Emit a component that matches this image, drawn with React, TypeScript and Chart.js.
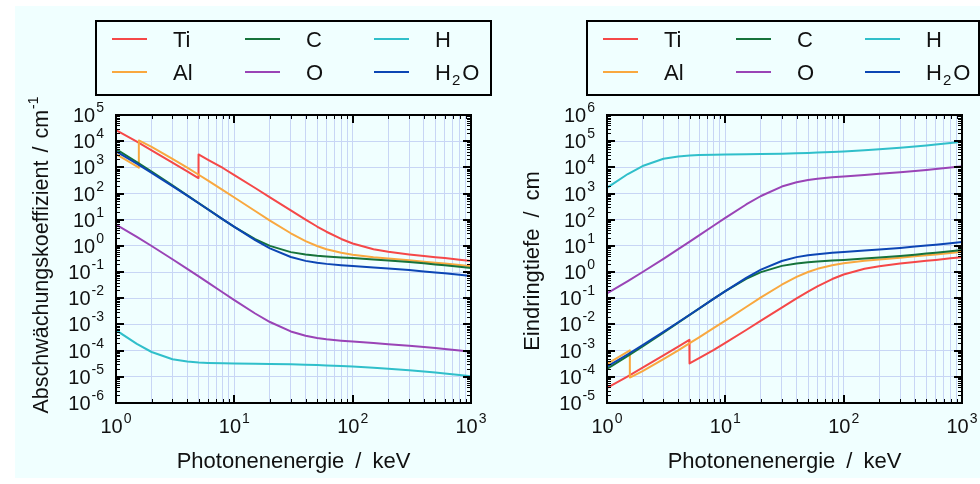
import React, { useEffect, useRef } from 'react';
import { Chart, registerables } from 'chart.js';

Chart.register(...registerables);

const FONT_FAMILY = '"Liberation Sans", "DejaVu Sans", sans-serif';
const TEXT_COLOR = '#111111';
const GRID_COLOR = '#c8d6f5';
const BG_COLOR = '#f0ffff';

// ---------- data ----------
const energyStd = [1, 1.5, 2, 3, 4, 5, 6, 8, 10, 15, 20, 30, 40, 50, 60, 80, 100, 150, 200, 300, 400, 500, 600, 800, 1000];
const energyAl = [1, 1.5, 1.5596, 1.5596, 2, 3, 4, 5, 6, 8, 10, 15, 20, 30, 40, 50, 60, 80, 100, 150, 200, 300, 400, 500, 600, 800, 1000];
const energyTi = [1, 1.5, 2, 3, 4, 4.966, 4.966, 5, 6, 8, 10, 15, 20, 30, 40, 50, 60, 80, 100, 150, 200, 300, 400, 500, 600, 800, 1000];

// attenuation coefficient / cm^-1
const muTi = [26600, 9520, 4480, 1515, 699, 389, 3106, 3100, 1952, 947, 505, 163, 71.7, 22.6, 10.05, 5.51, 3.48, 1.84, 1.235, 0.749, 0.597, 0.474, 0.412, 0.372, 0.342, 0.298, 0.268];
const muAl = [3200, 1086, 977, 10680, 6110, 2127, 973, 522, 311, 136, 70.8, 21.5, 9.29, 3.04, 1.534, 0.994, 0.75, 0.545, 0.46, 0.372, 0.33, 0.281, 0.25, 0.228, 0.211, 0.185, 0.166];
const muC = [5000, 1582, 684, 204, 85.4, 43.2, 24.7, 10.3, 5.36, 1.82, 1.0, 0.579, 0.469, 0.423, 0.396, 0.364, 0.342, 0.304, 0.278, 0.241, 0.216, 0.197, 0.182, 0.16, 0.144];
const muO = [6.56, 2.21, 0.993, 0.31, 0.133, 0.0685, 0.0396, 0.0166, 0.00851, 0.00262, 0.00124, 5.4e-4, 3.69e-4, 3.05e-4, 2.73e-4, 2.4e-4, 2.22e-4, 1.94e-4, 1.77e-4, 1.53e-4, 1.37e-4, 1.25e-4, 1.15e-4, 1.01e-4, 9.1e-5];
const muH = [6.04e-4, 1.8e-4, 8.87e-5, 4.7e-5, 3.81e-5, 3.51e-5, 3.39e-5, 3.28e-5, 3.23e-5, 3.15e-5, 3.09e-5, 2.99e-5, 2.9e-5, 2.81e-5, 2.73e-5, 2.59e-5, 2.47e-5, 2.22e-5, 2.03e-5, 1.77e-5, 1.59e-5, 1.45e-5, 1.34e-5, 1.18e-5, 1.06e-5];
const muH2O = [4078, 1376, 617, 193, 82.8, 42.6, 24.6, 10.37, 5.33, 1.673, 0.81, 0.376, 0.268, 0.227, 0.206, 0.184, 0.171, 0.151, 0.137, 0.119, 0.106, 0.0969, 0.0896, 0.0787, 0.0707];

// penetration depth / cm
const depthTi = [3.76e-5, 1.05e-4, 2.23e-4, 6.6e-4, 1.43e-3, 2.57e-3, 3.22e-4, 3.23e-4, 5.12e-4, 1.06e-3, 1.98e-3, 6.13e-3, 0.0139, 0.0442, 0.0995, 0.181, 0.287, 0.543, 0.81, 1.335, 1.675, 2.11, 2.43, 2.69, 2.92, 3.36, 3.73];
const depthAl = [3.13e-4, 9.21e-4, 1.02e-3, 9.36e-5, 1.64e-4, 4.7e-4, 1.03e-3, 1.92e-3, 3.22e-3, 7.35e-3, 0.0141, 0.0465, 0.108, 0.329, 0.652, 1.006, 1.333, 1.835, 2.17, 2.69, 3.03, 3.56, 4.0, 4.39, 4.74, 5.41, 6.02];
const depthC = [2.0e-4, 6.32e-4, 1.46e-3, 4.9e-3, 0.0117, 0.0231, 0.0405, 0.0971, 0.187, 0.549, 1.0, 1.727, 2.13, 2.36, 2.53, 2.75, 2.92, 3.29, 3.6, 4.15, 4.63, 5.08, 5.49, 6.25, 6.94];
const depthO = [0.152, 0.452, 1.007, 3.22, 7.51, 14.6, 25.3, 60.2, 117.5, 382, 806, 1852, 2710, 3280, 3660, 4170, 4500, 5150, 5650, 6540, 7300, 8000, 8700, 9900, 11000];
const depthH = [1655, 5560, 11270, 21280, 26250, 28490, 29500, 30490, 30960, 31750, 32360, 33440, 34480, 35590, 36630, 38610, 40490, 45050, 49260, 56500, 62900, 69000, 74600, 84700, 94300];
const depthH2O = [2.45e-4, 7.27e-4, 1.62e-3, 5.18e-3, 0.0121, 0.0235, 0.0407, 0.0964, 0.188, 0.598, 1.235, 2.66, 3.73, 4.41, 4.85, 5.43, 5.85, 6.62, 7.3, 8.4, 9.43, 10.32, 11.16, 12.71, 14.14];

const seriesLabels = ['Ti', 'Al', 'C', 'O', 'H', 'H2O'];
const seriesColors = ['#f54848', '#f9a83f', '#16733b', '#9a44b6', '#30bfca', '#0c46b4'];

// tick decades
const xDecadeExps = [0, 1, 2, 3];
const yDecadeExpsMu = [-6, -5, -4, -3, -2, -1, 0, 1, 2, 3, 4, 5];
const yDecadeExpsDepth = [-5, -4, -3, -2, -1, 0, 1, 2, 3, 4, 5, 6];
const minorSignificands = [2, 3, 4, 5, 6, 7, 8, 9];

// legend layout: [series index, column, row]
const legendOrder = [[0, 0, 0], [2, 1, 0], [4, 2, 0], [1, 0, 1], [3, 1, 1], [5, 2, 1]];

// ---------- helpers ----------
function logTicks(exps: number[]) {
  const out: any[] = [];
  exps.forEach((e, i) => {
    out.push({ value: Math.pow(10, e), major: true });
    if (i < exps.length - 1) {
      minorSignificands.forEach((m) => out.push({ value: m * Math.pow(10, e), major: false }));
    }
  });
  return out;
}

function pts(xs: number[], ys: number[]) {
  return xs.map((x, i) => ({ x, y: ys[i] }));
}

function setFont(ctx: CanvasRenderingContext2D, size: number) {
  ctx.font = `${size}px ${FONT_FAMILY}`;
}

type Seg = { t: string; size: number; dy: number; pad?: number };

function drawSegs(ctx: CanvasRenderingContext2D, segs: Seg[], x: number, baseline: number, align: 'left' | 'center' | 'right') {
  let total = 0;
  const widths = segs.map((s) => {
    setFont(ctx, s.size);
    const w = ctx.measureText(s.t).width;
    total += w + (s.pad || 0);
    return w;
  });
  let cx = align === 'left' ? x : align === 'center' ? x - total / 2 : x - total;
  ctx.textAlign = 'left';
  ctx.textBaseline = 'alphabetic';
  segs.forEach((s, i) => {
    cx += s.pad || 0;
    setFont(ctx, s.size);
    ctx.fillText(s.t, cx, baseline + s.dy);
    cx += widths[i];
  });
}

function powSegs(exp: number): Seg[] {
  return [
    { t: '10', size: 20, dy: 0 },
    { t: exp < 0 ? '-' + Math.abs(exp) : String(exp), size: 14, dy: -10, pad: 1 },
  ];
}

function labelSegs(label: string): Seg[] {
  if (label === 'H2O') {
    return [
      { t: 'H', size: 22, dy: 0 },
      { t: '2', size: 15, dy: 5, pad: 1 },
      { t: 'O', size: 22, dy: 0, pad: 2 },
    ];
  }
  return [{ t: label, size: 22, dy: 0 }];
}

function decorPlugin(cfg: { yExps: number[]; yTitle: Seg[]; yTitleShift: number; legendW: number }) {
  return {
    id: 'decor',
    afterDraw(chart: any) {
      const ctx: CanvasRenderingContext2D = chart.ctx;
      const a = chart.chartArea;
      const xs = chart.scales.x;
      const ys = chart.scales.y;
      ctx.save();
      ctx.strokeStyle = '#000';
      // tick marks, inward, on all sides
      for (const t of xs.ticks) {
        const px = xs.getPixelForValue(t.value);
        const len = t.major ? 8 : 4;
        const p = t.major ? Math.round(px) : Math.round(px) + 0.5;
        ctx.lineWidth = t.major ? 2 : 1;
        ctx.beginPath();
        ctx.moveTo(p, a.bottom);
        ctx.lineTo(p, a.bottom - len);
        ctx.moveTo(p, a.top);
        ctx.lineTo(p, a.top + len);
        ctx.stroke();
      }
      for (const t of ys.ticks) {
        const py = ys.getPixelForValue(t.value);
        const len = t.major ? 8 : 4;
        const p = t.major ? Math.round(py) : Math.round(py) + 0.5;
        ctx.lineWidth = t.major ? 2 : 1;
        ctx.beginPath();
        ctx.moveTo(a.left, p);
        ctx.lineTo(a.left + len, p);
        ctx.moveTo(a.right, p);
        ctx.lineTo(a.right - len, p);
        ctx.stroke();
      }
      // frame
      ctx.lineWidth = 2;
      ctx.strokeRect(a.left, a.top, a.right - a.left, a.bottom - a.top);

      // tick labels
      ctx.fillStyle = TEXT_COLOR;
      xDecadeExps.forEach((e) => {
        const px = xs.getPixelForValue(Math.pow(10, e));
        drawSegs(ctx, powSegs(e), px, a.bottom + 30, 'center');
      });
      cfg.yExps.forEach((e) => {
        const py = ys.getPixelForValue(Math.pow(10, e));
        drawSegs(ctx, powSegs(e), a.left - 12, py + 7, 'right');
      });

      // axis titles
      drawSegs(
        ctx,
        [
          { t: 'Photonenenergie', size: 22, dy: 0 },
          { t: '/', size: 22, dy: 0, pad: 11 },
          { t: 'keV', size: 22, dy: 0, pad: 11 },
        ],
        (a.left + a.right) / 2,
        468,
        'center'
      );
      ctx.save();
      ctx.translate(40, (a.top + a.bottom) / 2 + cfg.yTitleShift);
      ctx.rotate(-Math.PI / 2);
      drawSegs(ctx, cfg.yTitle, 0, 8, 'center');
      ctx.restore();

      // legend
      ctx.lineWidth = 2;
      ctx.strokeStyle = '#000';
      ctx.strokeRect(96, 21, cfg.legendW, 74);
      const colX = [112, 245, 374];
      const rowY = [39, 72];
      legendOrder.forEach(([si, c, r]) => {
        const ds = chart.data.datasets[si];
        const lx = colX[c];
        const ly = rowY[r];
        ctx.strokeStyle = ds.borderColor;
        ctx.lineWidth = 2;
        ctx.beginPath();
        ctx.moveTo(lx, ly);
        ctx.lineTo(lx + 35, ly);
        ctx.stroke();
        ctx.fillStyle = TEXT_COLOR;
        drawSegs(ctx, labelSegs(ds.label), lx + 61, ly + 8, 'left');
      });
      ctx.restore();
    },
  };
}

function buildChart(canvas: HTMLCanvasElement, xsList: number[][], ysList: number[][], yExps: number[], yTitle: Seg[], yTitleShift: number, legendW: number) {
  const datasets = seriesLabels.map((label, i) => ({
    label,
    data: pts(xsList[i], ysList[i]),
    borderColor: seriesColors[i],
    backgroundColor: seriesColors[i],
    borderWidth: 2,
    pointRadius: 0,
    fill: false,
    tension: 0,
    order: seriesLabels.length - 1 - i,
  }));
  return new Chart(canvas, {
    type: 'line',
    data: { datasets } as any,
    options: {
      animation: false,
      responsive: false,
      events: [],
      layout: { padding: { top: 115, right: 24, bottom: 0, left: 0 } },
      elements: { line: { borderJoinStyle: 'round', borderCapStyle: 'butt' }, point: { radius: 0 } },
      plugins: { legend: { display: false }, tooltip: { enabled: false }, title: { display: false } },
      scales: {
        x: {
          type: 'logarithmic',
          min: 1,
          max: 1000,
          ticks: { display: false, autoSkip: false, callback: () => '' },
          grid: { color: GRID_COLOR, lineWidth: 1, drawTicks: false },
          border: { display: false },
          afterBuildTicks: (s: any) => {
            s.ticks = logTicks(xDecadeExps);
          },
          afterFit: (s: any) => {
            s.height = 81;
          },
        },
        y: {
          type: 'logarithmic',
          min: Math.pow(10, yExps[0]),
          max: Math.pow(10, yExps[yExps.length - 1]),
          ticks: { display: false, autoSkip: false, callback: () => '' },
          grid: {
            color: (c: any) => (c.tick && c.tick.major ? GRID_COLOR : 'rgba(0,0,0,0)'),
            lineWidth: 1,
            drawTicks: false,
          },
          border: { display: false },
          afterBuildTicks: (s: any) => {
            s.ticks = logTicks(yExps);
          },
          afterFit: (s: any) => {
            s.width = 116;
          },
        },
      },
    } as any,
    plugins: [decorPlugin({ yExps, yTitle, yTitleShift, legendW })],
  });
}

export default function App() {
  const leftRef = useRef<HTMLCanvasElement>(null);
  const rightRef = useRef<HTMLCanvasElement>(null);

  useEffect(() => {
    const xsList = [energyTi, energyAl, energyStd, energyStd, energyStd, energyStd];
    const c1 = buildChart(
      leftRef.current!,
      xsList,
      [muTi, muAl, muC, muO, muH, muH2O],
      yDecadeExpsMu,
      [
        { t: 'Abschwächungskoeffizient', size: 21.5, dy: 0 },
        { t: '/', size: 21.5, dy: 0, pad: 8 },
        { t: 'cm', size: 21.5, dy: 0, pad: 8 },
        { t: '-1', size: 14, dy: -10, pad: 1 },
      ],
      -4,
      395
    );
    const c2 = buildChart(
      rightRef.current!,
      xsList,
      [depthTi, depthAl, depthC, depthO, depthH, depthH2O],
      yDecadeExpsDepth,
      [
        { t: 'Eindringtiefe', size: 22, dy: 0 },
        { t: '/', size: 22, dy: 0, pad: 11 },
        { t: 'cm', size: 22, dy: 0, pad: 11 },
      ],
      2,
      392
    );
    return () => {
      c1.destroy();
      c2.destroy();
    };
  }, []);

  return (
    <div style={{ position: 'fixed', left: 0, top: 0, width: 980, height: 484, background: '#ffffff', overflow: 'hidden' }}>
      <div style={{ position: 'absolute', left: 15, top: 6, width: 965, height: 472, background: BG_COLOR }} />
      <canvas ref={leftRef} width={495} height={484} style={{ position: 'absolute', left: 0, top: 0, width: 495, height: 484 }} />
      <canvas ref={rightRef} width={495} height={484} style={{ position: 'absolute', left: 491, top: 0, width: 495, height: 484 }} />
    </div>
  );
}
